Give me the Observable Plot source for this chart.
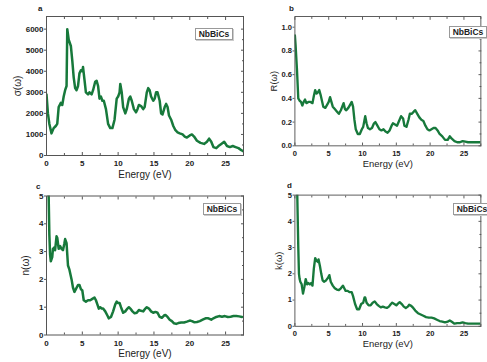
<!DOCTYPE html>
<html><head><meta charset="utf-8">
<script src="https://cdn.jsdelivr.net/npm/d3@7"></script>
<script src="https://cdn.jsdelivr.net/npm/@observablehq/plot@0.6"></script>
<style>
body{margin:0;background:#fff;}
#fig{position:relative;width:487px;height:362px;overflow:hidden;font-family:"Liberation Sans",Arial,sans-serif;background:#fff;}
.panel{position:absolute;}
.tag{position:absolute;font-size:8px;line-height:8px;font-weight:bold;color:#222;}
.leg{position:absolute;border:1px solid #999;font-size:8.5px;font-weight:bold;text-align:center;line-height:10px;background:#fff;color:#222;box-shadow:1px 1px 0 #ccc;}
</style></head>
<body><div id="fig"></div>
<script>
// Panel a: optical conductivity sigma(omega)
const sigmaEnergy = [0,0.2,0.4,0.7,1.0,1.3,1.5,1.7,2.0,2.2,2.4,2.6,2.8,2.9,3.1,3.4,3.6,3.8,4.0,4.2,4.4,4.6,4.8,5.0,5.1,5.3,5.5,5.8,6.0,6.3,6.5,6.8,7.0,7.2,7.4,7.6,7.8,8.0,8.3,8.6,8.9,9.2,9.5,9.8,10.0,10.2,10.3,10.5,10.7,11.0,11.2,11.5,11.7,11.9,12.2,12.5,12.7,12.9,13.2,13.5,13.7,14.0,14.2,14.4,14.6,14.9,15.1,15.3,15.5,15.8,16.0,16.2,16.5,16.7,16.9,17.1,17.4,17.7,18.0,18.3,18.6,19.0,19.3,19.6,20.0,20.3,20.6,21.0,21.5,22.0,22.4,22.7,23.0,23.3,23.7,24.0,24.4,24.8,25.2,25.6,26.0,26.4,26.8,27.2,27.5];
const sigmaValues = [2900,2000,1500,1050,1300,1400,1500,2300,2500,2400,2800,3100,3300,6000,5500,5200,4500,3700,3200,3100,3300,3900,4050,4000,4200,3600,3000,2900,3000,2900,3100,3500,3550,3300,2700,2800,2600,2600,2200,1500,1300,1300,1700,2700,2800,3000,3400,3000,2300,2000,2200,2700,2800,2600,2200,2050,2200,2400,2350,2200,2300,3000,3200,3100,2800,2600,2700,3000,3000,2600,2000,1950,2300,2450,2300,1900,1700,1400,1200,1100,1050,1000,900,850,950,1000,900,700,600,550,650,800,650,400,350,450,550,650,450,400,450,400,350,250,200];

// Panel b: reflectivity R(omega)
const reflEnergy = [0,0.1,0.3,0.5,0.7,0.9,1.1,1.3,1.5,1.7,2.0,2.3,2.6,2.8,3.0,3.2,3.4,3.6,3.8,4.0,4.2,4.5,4.8,5.0,5.2,5.4,5.6,5.9,6.2,6.5,6.8,7.0,7.2,7.4,7.6,7.9,8.2,8.4,8.6,8.8,9.0,9.3,9.6,9.9,10.1,10.3,10.4,10.6,10.8,11.1,11.4,11.7,11.9,12.2,12.5,12.8,13.1,13.4,13.7,14.0,14.3,14.5,14.8,15.1,15.4,15.7,16.0,16.2,16.5,16.8,17.0,17.3,17.6,17.8,18.1,18.4,18.7,19.0,19.3,19.6,19.9,20.2,20.5,20.8,21.1,21.4,21.8,22.2,22.6,22.9,23.2,23.6,24.0,24.4,24.8,25.2,25.6,26.0,26.5,27.5];
const reflValues = [0.93,0.85,0.65,0.40,0.38,0.37,0.34,0.37,0.39,0.36,0.37,0.37,0.36,0.42,0.47,0.44,0.45,0.47,0.43,0.38,0.33,0.32,0.35,0.37,0.41,0.37,0.33,0.31,0.29,0.27,0.30,0.33,0.36,0.31,0.30,0.32,0.35,0.37,0.33,0.22,0.14,0.10,0.10,0.14,0.16,0.22,0.25,0.19,0.15,0.14,0.15,0.19,0.20,0.17,0.14,0.13,0.14,0.12,0.11,0.13,0.17,0.19,0.18,0.17,0.21,0.25,0.23,0.17,0.16,0.22,0.27,0.27,0.29,0.30,0.27,0.24,0.22,0.21,0.17,0.14,0.13,0.14,0.15,0.15,0.13,0.10,0.08,0.05,0.05,0.08,0.06,0.04,0.03,0.03,0.04,0.035,0.03,0.03,0.03,0.03];

// Panel c: refractive index n(omega)
const nEnergy = [0,0.1,0.3,0.4,0.5,0.6,0.8,0.9,1.1,1.2,1.4,1.5,1.7,1.9,2.1,2.3,2.5,2.6,2.8,3.0,3.2,3.5,3.7,3.9,4.1,4.4,4.6,4.8,5.0,5.2,5.5,5.8,6.1,6.4,6.7,6.9,7.1,7.3,7.5,7.7,7.9,8.2,8.5,8.7,9.0,9.3,9.6,9.8,10.0,10.2,10.4,10.7,11.0,11.3,11.5,11.7,12.0,12.3,12.6,12.9,13.2,13.5,13.8,14.0,14.3,14.6,14.9,15.2,15.5,15.8,16.1,16.4,16.6,16.9,17.2,17.5,17.8,18.1,18.4,18.8,19.2,19.6,20.0,20.3,20.6,21.0,21.4,21.8,22.2,22.6,23.0,23.3,23.7,24.1,24.5,24.9,25.3,25.7,26.1,26.5,26.9,27.3];
const nValues = [8,7,5,3.6,2.9,2.65,2.8,3.1,3.15,3.05,3.55,3.5,3.1,3.2,3.1,3.05,3.3,3.45,3.3,2.5,2.35,2.0,1.7,1.55,1.65,1.8,1.8,1.65,1.6,1.25,1.2,1.25,1.25,1.3,1.35,1.25,1.1,0.95,1.0,0.95,0.95,0.85,0.7,0.6,0.65,0.85,1.1,1.2,1.15,1.15,1.0,0.8,0.85,0.95,1.0,0.95,0.85,0.78,0.8,0.9,0.87,0.85,0.95,1.0,0.95,0.85,0.8,0.83,0.8,0.65,0.62,0.7,0.72,0.65,0.55,0.5,0.42,0.4,0.43,0.45,0.45,0.48,0.52,0.5,0.46,0.47,0.5,0.55,0.6,0.6,0.55,0.6,0.65,0.68,0.66,0.68,0.65,0.66,0.68,0.68,0.67,0.65];

// Panel d: extinction coefficient k(omega)
const kEnergy = [0.2,0.35,0.5,0.6,0.7,0.8,1.0,1.2,1.4,1.6,1.8,2.0,2.2,2.4,2.6,2.8,3.0,3.2,3.4,3.5,3.7,3.9,4.1,4.3,4.6,4.9,5.1,5.3,5.6,5.9,6.2,6.5,6.8,7.1,7.3,7.5,7.8,8.1,8.4,8.6,8.9,9.2,9.5,9.8,10.1,10.3,10.4,10.6,10.9,11.2,11.5,11.8,12.1,12.4,12.7,13.0,13.3,13.6,13.9,14.2,14.4,14.7,15.0,15.3,15.5,15.8,16.1,16.4,16.7,16.9,17.2,17.5,17.8,18.2,18.6,19.0,19.4,19.8,20.2,20.6,21.0,21.4,21.8,22.2,22.6,22.9,23.2,23.6,24.0,24.4,24.8,25.2,25.6,26.0,26.5,27.5];
const kValues = [8,5,3,2.0,1.8,1.7,1.6,1.25,1.5,1.8,1.6,1.65,1.6,1.65,1.55,2.2,2.6,2.5,2.45,2.55,2.3,2.0,1.75,1.7,1.75,1.85,1.95,1.7,1.55,1.45,1.4,1.38,1.45,1.55,1.45,1.35,1.35,1.3,1.3,1.15,0.85,0.65,0.65,0.85,0.9,1.1,1.1,0.9,0.8,0.8,0.9,0.95,0.85,0.78,0.72,0.75,0.72,0.7,0.75,0.85,0.9,0.85,0.8,0.88,0.92,0.85,0.75,0.7,0.75,0.82,0.78,0.7,0.6,0.5,0.45,0.4,0.35,0.33,0.33,0.3,0.25,0.2,0.18,0.15,0.18,0.22,0.17,0.1,0.12,0.12,0.15,0.12,0.1,0.1,0.1,0.1];

const xTicks = [0,5,10,15,20,25];
const xMinor = [2.5,7.5,12.5,17.5,22.5,27.5];
const sigmaTicks = [0,1000,2000,3000,4000,5000,6000];
const reflTicks = [0,0.2,0.4,0.6,0.8,1.0];
const nkTicks = [0,1,2,3,4,5];
const panelTags = ["a","b","c","d"];
const yLabels = ["σ(ω)","R(ω)","n(ω)","k(ω)"];
const legendText = "NbBiCs";

const fig = document.getElementById("fig");
const green = "#17793b";

function panel(o) {
  const data = o.E.map((e, i) => ({e, v: o.V[i]}));
  const minor = o.ticks.slice(0, -1).map((t, i) => (t + o.ticks[i + 1]) / 2);
  const p = Plot.plot({
    width: 250, height: 180,
    marginLeft: 46, marginRight: 7, marginTop: o.mt, marginBottom: 180 - o.mt - o.ph,
    style: {fontFamily: "Liberation Sans, Arial, sans-serif", fontSize: "8px", background: "transparent", color: "#222", overflow: "visible"},
    x: {domain: [0, 27.5]},
    y: {domain: o.domain},
    marks: [
      Plot.line(data, {x: "e", y: "v", stroke: green, strokeWidth: 2.5, clip: true}),
      Plot.frame({stroke: "#555"}),
      Plot.axisX({ticks: xTicks, tickSize: 0, tickPadding: 5, fontWeight: "bold", label: null}),
      Plot.axisX({ticks: [], label: "Energy (eV)", labelAnchor: "center", labelArrow: "none", labelOffset: 22, fontSize: 10}),
      Plot.axisX({ticks: xTicks, tickSize: -3, text: null, label: null, stroke: "#555"}),
      Plot.axisX({ticks: xMinor, tickSize: -2, text: null, label: null, stroke: "#555"}),
      Plot.axisX({anchor: "top", ticks: xTicks, tickSize: -3, text: null, label: null, stroke: "#555"}),
      Plot.axisX({anchor: "top", ticks: xMinor, tickSize: -2, text: null, label: null, stroke: "#555"}),
      Plot.axisY({ticks: o.ticks, tickSize: 2, tickPadding: 1, tickFormat: o.fmt, fontWeight: "bold", label: null, stroke: "#555"}),
      Plot.axisY({ticks: [], label: o.label, labelAnchor: "center", labelArrow: "none", labelOffset: o.lo, fontSize: 10}),
      Plot.axisY({anchor: "right", ticks: o.ticks, tickSize: -3, text: null, label: null, stroke: "#555"}),
      Plot.axisY({anchor: "right", ticks: minor, tickSize: -2, text: null, label: null, stroke: "#555"})
    ]
  });
  const d = document.createElement("div");
  d.className = "panel";
  d.style.left = o.left + "px"; d.style.top = o.top + "px";
  d.appendChild(p);
  fig.appendChild(d);
  const t = document.createElement("div");
  t.className = "tag"; t.textContent = o.tag;
  t.style.left = o.tx + "px"; t.style.top = o.ty + "px";
  fig.appendChild(t);
  const l = document.createElement("div");
  l.className = "leg"; l.textContent = legendText;
  l.style.left = o.lx + "px"; l.style.top = o.ly + "px"; l.style.width = "36px";
  fig.appendChild(l);
}

panel({E: sigmaEnergy, V: sigmaValues, domain: [0, 6600], ticks: sigmaTicks, fmt: d3.format("d"), label: yLabels[0], lo: 33,
  left: 0, top: 0, mt: 16, ph: 139, tag: panelTags[0], tx: 38, ty: 5, lx: 195, ly: 28});
panel({E: reflEnergy, V: reflValues, domain: [0, 1.09], ticks: reflTicks, fmt: d3.format(".1f"), label: yLabels[1], lo: 26,
  left: 251, top: 0, mt: 17, ph: 137, tag: panelTags[1], tx: 289, ty: 5, lx: 449, ly: 26});
panel({E: nEnergy, V: nValues, domain: [0, 5], ticks: nkTicks, fmt: d3.format("d"), label: yLabels[2], lo: 25,
  left: 0, top: 180, mt: 15.5, ph: 139, tag: panelTags[2], tx: 36, ty: 183, lx: 203, ly: 203});
panel({E: kEnergy, V: kValues, domain: [0, 5], ticks: nkTicks, fmt: d3.format("d"), label: yLabels[3], lo: 21,
  left: 251, top: 180, mt: 15.5, ph: 139, tag: panelTags[3], tx: 287, ty: 182, lx: 453, ly: 203});
</script>
</body></html>
